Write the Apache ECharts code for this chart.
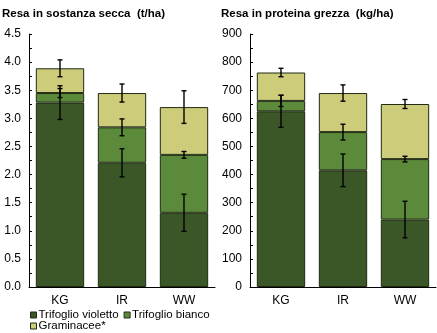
<!DOCTYPE html>
<html>
<head>
<meta charset="utf-8">
<script src="https://cdn.jsdelivr.net/npm/echarts@6/dist/echarts.min.js"></script>
<style>
  html, body { margin: 0; padding: 0; background: #fff; }
  #chart { width: 437px; height: 333px; }
</style>
</head>
<body>
<div id="chart"></div>
<script>
// Treatments
const categories = ['KG', 'IR', 'WW'];
const seriesNames = ['Trifoglio violetto', 'Trifoglio bianco', 'Graminacee*'];

// Dry matter yield (t/ha), per component
const dmViolet = [3.28, 2.21, 1.32];
const dmBianco = [0.17, 0.63, 1.03];
const dmGram = [0.44, 0.61, 0.85];
// Error bars (±) at the top of each stacked component
const dmVioletErr = [0.30, 0.25, 0.33];
const dmBiancoErr = [0.08, 0.15, 0.06];
const dmGramErr = [0.15, 0.16, 0.29];

// Crude protein yield (kg/ha), per component
const cpViolet = [625, 415, 240];
const cpBianco = [37, 136, 215];
const cpGram = [101, 139, 196];
const cpVioletErr = [57, 58, 65];
const cpBiancoErr = [20, 28, 10];
const cpGramErr = [15, 29, 16];

// Axis ticks
const dmTicks = { min: 0, max: 4.5, interval: 0.5 };
const cpTicks = { min: 0, max: 900, interval: 100 };

const colors = ['#3b5727', '#5b8a3a', '#cccc7a'];
const edge = '#1f2b12';
const FONT = 'Liberation Sans, Arial, sans-serif';

function errorPoints(parts, errs) {
  const pts = [];
  const cum = [0, 0, 0];
  parts.forEach((arr, k) => {
    arr.forEach((v, i) => {
      cum[i] += v;
      pts.push([i, cum[i], errs[k][i]]);
    });
  });
  return pts;
}

function renderError(params, api) {
  const i = api.value(0), top = api.value(1), e = api.value(2);
  const hi = api.coord([i, top + e]);
  const lo = api.coord([i, top - e]);
  const cap = 2.5;
  const style = { stroke: '#000', lineWidth: 1.4 };
  return {
    type: 'group',
    children: [
      { type: 'line', shape: { x1: hi[0], y1: hi[1], x2: lo[0], y2: lo[1] }, style },
      { type: 'line', shape: { x1: hi[0] - cap, y1: hi[1], x2: hi[0] + cap, y2: hi[1] }, style },
      { type: 'line', shape: { x1: lo[0] - cap, y1: lo[1], x2: lo[0] + cap, y2: lo[1] }, style }
    ]
  };
}

function barSeries(values, idx, axisIdx, stack) {
  return {
    name: seriesNames[idx],
    type: 'bar',
    stack: stack,
    xAxisIndex: axisIdx,
    yAxisIndex: axisIdx,
    barWidth: '78%',
    itemStyle: { color: colors[idx], borderColor: edge, borderWidth: 1 },
    data: values
  };
}

const yAxisBase = {
  type: 'value',
  axisLine: { show: true, lineStyle: { color: '#000', width: 1 } },
  axisTick: { show: true, inside: true, length: 3, lineStyle: { color: '#000' } },
  minorTick: { show: true, splitNumber: 2, length: 3, lineStyle: { color: '#000' } },
  splitLine: { show: false },
  axisLabel: { color: '#000', fontSize: 12, fontFamily: FONT, margin: 8 }
};

const xAxisBase = {
  type: 'category',
  data: categories,
  axisLine: { lineStyle: { color: '#000', width: 1 } },
  axisTick: { show: false },
  axisLabel: { color: '#000', fontSize: 12, fontFamily: FONT, margin: 8 }
};

const titleStyle = { fontSize: 11.5, fontWeight: 'bold', fontFamily: FONT, color: '#000' };

// Two legend rows, laid out one under the other
function legendRow(names, top) {
  return {
    left: 30, top: top,
    itemWidth: 6, itemHeight: 6, itemGap: 5,
    padding: 0,
    icon: 'rect',
    textStyle: { fontSize: 11.5, fontFamily: FONT, color: '#000', padding: [0, 0, 0, -3] },
    data: names.map(n => ({
      name: n,
      itemStyle: { color: colors[seriesNames.indexOf(n)], borderColor: edge, borderWidth: 1 }
    }))
  };
}

const chart = echarts.init(document.getElementById('chart'), null, { renderer: 'canvas' });
chart.setOption({
  animation: false,
  backgroundColor: '#fff',
  title: [
    { text: 'Resa in sostanza secca  (t/ha)', left: 2, top: 8, padding: 0, textStyle: titleStyle },
    { text: 'Resa in proteina grezza  (kg/ha)', left: 221, top: 8, padding: 0, textStyle: titleStyle }
  ],
  grid: [
    { left: 29, top: 34, width: 186, height: 253 },
    { left: 250, top: 34, width: 186, height: 253 }
  ],
  xAxis: [
    Object.assign({ gridIndex: 0 }, xAxisBase),
    Object.assign({ gridIndex: 1 }, xAxisBase)
  ],
  yAxis: [
    Object.assign({ gridIndex: 0 }, yAxisBase, dmTicks, {
      axisLabel: Object.assign({}, yAxisBase.axisLabel, { formatter: v => v.toFixed(1) })
    }),
    Object.assign({ gridIndex: 1 }, yAxisBase, cpTicks)
  ],
  legend: [
    legendRow(seriesNames.slice(0, 2), 309),
    legendRow(seriesNames.slice(2), 320)
  ],
  series: [
    barSeries(dmViolet, 0, 0, 'dm'),
    barSeries(dmBianco, 1, 0, 'dm'),
    barSeries(dmGram, 2, 0, 'dm'),
    barSeries(cpViolet, 0, 1, 'cp'),
    barSeries(cpBianco, 1, 1, 'cp'),
    barSeries(cpGram, 2, 1, 'cp'),
    {
      type: 'custom', xAxisIndex: 0, yAxisIndex: 0, z: 10,
      renderItem: renderError,
      data: errorPoints([dmViolet, dmBianco, dmGram], [dmVioletErr, dmBiancoErr, dmGramErr])
    },
    {
      type: 'custom', xAxisIndex: 1, yAxisIndex: 1, z: 10,
      renderItem: renderError,
      data: errorPoints([cpViolet, cpBianco, cpGram], [cpVioletErr, cpBiancoErr, cpGramErr])
    }
  ]
});
</script>
</body>
</html>
